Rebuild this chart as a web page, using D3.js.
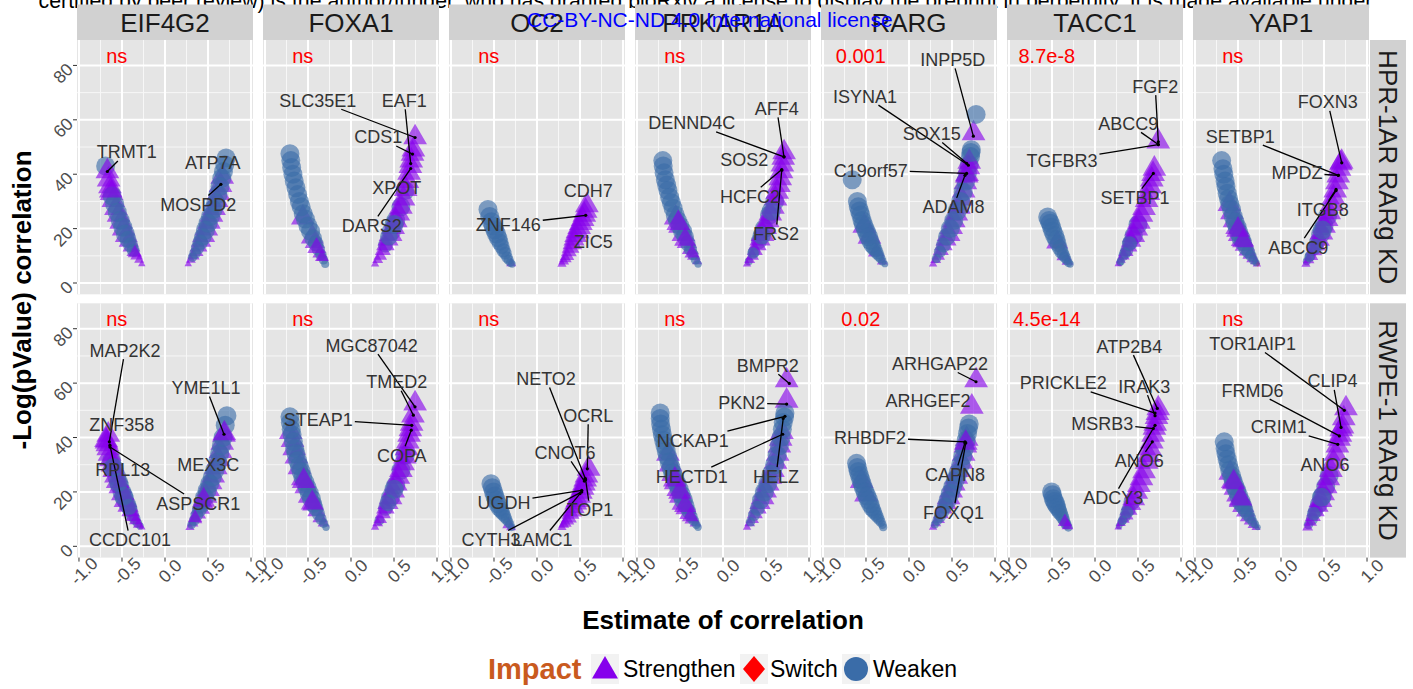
<!DOCTYPE html>
<html><head><meta charset="utf-8">
<script src="https://cdn.jsdelivr.net/npm/d3@7"></script>
<style>
body{margin:0;background:#fff;}
text{font-family:"Liberation Sans",Arial,Helvetica,sans-serif;}
</style>
</head><body>
<svg id="chart" width="1413" height="689"></svg>
<script>
// ---------------- data ----------------
const genes = ["EIF4G2","FOXA1","OC2","PRKAR1A","RARG","TACC1","YAP1"];
const cellLines = ["HPR-1AR RARg KD","RWPE-1 RARg KD"];
const pHPR = ["ns","ns","ns","ns","0.001","8.7e-8","ns"];
const pRWPE = ["ns","ns","ns","ns","0.02","4.5e-14","ns"];
const xTicks = [-1.0,-0.5,0.0,0.5,1.0];
const xTickLabels = ["-1.0","-0.5","0.0","0.5","1.0"];
const xMinor = [-0.75,-0.25,0.25,0.75];
const yTicks = [0,20,40,60,80];
const yMinor = [10,30,50,70];
const impactCodes = ["S","X","W"];
const impactNames = ["Strengthen","Switch","Weaken"];
const pAnnotEst = -0.56, pAnnotLogp = 83.4;

// points: [estimate, -log(pValue), impact]
const hpr_EIF4G2 = [
[-0.69,43,"W"],[-0.67,41,"S"],[-0.655,38,"S"],[-0.64,35.5,"S"],[-0.62,33,"S"],[-0.60,30.5,"S"],[-0.57,27.5,"S"],[-0.54,25,"S"],[-0.51,22.5,"S"],[-0.48,20,"S"],[-0.45,17.5,"S"],[-0.42,15.5,"S"],[-0.39,13.5,"S"],[-0.36,11.5,"S"],[-0.33,10,"S"],[-0.30,8.5,"S"],[-0.27,7,"S"],
[-0.615,32,"W"],[-0.585,29,"W"],[-0.555,26,"W"],[-0.52,23,"W"],[-0.49,20.5,"W"],[-0.46,18,"W"],[-0.43,16,"W"],[-0.40,14,"W"],[-0.37,12,"W"],[-0.63,34,"S"],[-0.35,11,"S"],
[0.27,7,"S"],[0.30,8.5,"S"],[0.33,10,"S"],[0.36,11.5,"S"],[0.39,13.5,"S"],[0.42,15.5,"S"],[0.45,17.5,"S"],[0.48,20,"S"],[0.51,22.5,"S"],[0.54,25,"S"],[0.57,27.5,"S"],[0.60,30.5,"S"],[0.62,33,"S"],[0.645,36,"S"],[0.665,39,"S"],
[0.32,9.5,"W"],[0.35,11,"W"],[0.38,13,"W"],[0.41,15,"W"],[0.44,17,"W"],[0.47,19.5,"W"],[0.50,22,"W"],[0.53,24.5,"W"],[0.56,27,"W"],[0.59,29.5,"W"],[0.615,32.5,"W"],[0.64,35.5,"W"],[0.66,38.5,"W"],[0.68,41,"W"],[0.695,43.5,"W"],[0.71,46,"W"]
];
const hpr_FOXA1 = [
[-0.56,24,"S"],[-0.45,17,"S"],[-0.42,15,"S"],[-0.36,11,"S"],[-0.33,9.5,"S"],
[-0.71,47.5,"W"],[-0.70,45,"W"],[-0.69,42.5,"W"],[-0.675,40,"W"],[-0.66,37.5,"W"],[-0.64,35,"W"],[-0.62,32.5,"W"],[-0.60,30,"W"],[-0.58,28,"W"],[-0.555,25.5,"W"],[-0.53,23.5,"W"],[-0.50,21,"W"],[-0.47,19,"W"],[-0.44,16.5,"W"],[-0.41,14.5,"W"],[-0.38,12.5,"W"],[-0.35,10.5,"W"],[-0.32,8.5,"W"],[-0.30,7,"W"],
[-0.40,13,"S"],[-0.34,9.5,"S"],
[0.40,14,"W"],[0.47,19,"W"],[0.52,23,"W"],[0.58,28,"W"],[0.63,34,"W"],
[0.28,7,"S"],[0.31,8.5,"S"],[0.34,10,"S"],[0.37,12,"S"],[0.40,14,"S"],[0.43,16,"S"],[0.46,18,"S"],[0.49,20.5,"S"],[0.52,23,"S"],[0.55,25.5,"S"],[0.58,28,"S"],[0.61,31,"S"],[0.635,34.5,"S"],[0.655,37.5,"S"],[0.675,40.5,"S"],[0.69,43,"S"],[0.70,45,"S"],[0.715,47.5,"S"],[0.725,49,"S"],[0.745,53.5,"S"],
[0.44,17,"W"],[0.50,21.5,"W"]
];
const hpr_OC2 = [
[-0.30,7.2,"S"],
[-0.57,27,"W"],[-0.55,24.5,"W"],[-0.53,22.5,"W"],[-0.51,21,"W"],[-0.49,19.5,"W"],[-0.47,18,"W"],[-0.45,16.5,"W"],[-0.43,15,"W"],[-0.41,13.5,"W"],[-0.39,12,"W"],[-0.37,11,"W"],[-0.35,9.5,"W"],[-0.33,8.5,"W"],[-0.31,7.5,"W"],[-0.29,7,"W"],
[0.29,7,"S"],[0.31,8,"S"],[0.33,9,"S"],[0.35,10,"S"],[0.37,11.5,"S"],[0.39,13,"S"],[0.41,14.5,"S"],[0.43,16,"S"],[0.45,17.5,"S"],[0.47,19,"S"],[0.49,20.5,"S"],[0.51,22,"S"],[0.53,23.5,"S"],[0.55,25,"S"],[0.565,26.5,"S"],[0.58,28.5,"S"]
];
const hpr_PRKAR1A = [
[-0.55,24,"S"],[-0.50,21,"S"],[-0.46,18,"S"],[-0.42,15,"S"],[-0.38,12.5,"S"],[-0.34,10,"S"],[-0.30,8,"S"],
[-0.70,45,"W"],[-0.695,43,"W"],[-0.685,40.5,"W"],[-0.67,38,"W"],[-0.655,36,"W"],[-0.64,34,"W"],[-0.62,31.5,"W"],[-0.60,29.5,"W"],[-0.58,27.5,"W"],[-0.555,25,"W"],[-0.53,23,"W"],[-0.50,21,"W"],[-0.47,19,"W"],[-0.44,17,"W"],[-0.41,14.5,"W"],[-0.38,12.5,"W"],[-0.35,10.5,"W"],[-0.32,8.5,"W"],[-0.29,7,"W"],
[-0.52,22,"S"],[-0.44,16,"S"],[-0.36,11,"S"],
[0.30,8,"W"],[0.36,11.5,"W"],[0.42,15.5,"W"],[0.48,20,"W"],[0.54,25,"W"],[0.60,30,"W"],
[0.28,7,"S"],[0.31,8.5,"S"],[0.34,10,"S"],[0.37,12,"S"],[0.40,14,"S"],[0.43,16,"S"],[0.46,18,"S"],[0.49,20.5,"S"],[0.52,23,"S"],[0.55,25.5,"S"],[0.58,28,"S"],[0.61,31,"S"],[0.63,33.5,"S"],[0.65,36,"S"],[0.665,38.5,"S"],[0.68,41,"S"],[0.69,43.5,"S"],[0.70,46,"S"],[0.71,48,"S"],
[0.35,11,"W"],[0.45,17.5,"W"],[0.56,26.5,"W"]
];
const hpr_RARG = [
[-0.52,21,"S"],[-0.46,17,"S"],[-0.38,11.5,"S"],[-0.31,8,"S"],
[-0.66,38,"W"],[-0.60,30,"W"],[-0.59,28,"W"],[-0.575,26.5,"W"],[-0.56,25,"W"],[-0.545,23,"W"],[-0.53,21.5,"W"],[-0.51,20,"W"],[-0.49,18.5,"W"],[-0.47,17,"W"],[-0.45,15.5,"W"],[-0.43,14,"W"],[-0.41,13,"W"],[-0.39,12,"W"],[-0.37,11,"W"],[-0.35,10,"W"],[-0.33,9,"W"],[-0.31,8,"W"],[-0.28,7,"W"],
[0.28,7,"S"],[0.31,8.5,"S"],[0.34,10,"S"],[0.37,12,"S"],[0.40,14,"S"],[0.43,16,"S"],[0.46,18,"S"],[0.49,20.5,"S"],[0.52,23,"S"],[0.55,25.5,"S"],[0.58,28,"S"],[0.61,31,"S"],[0.635,34,"S"],[0.655,37,"S"],[0.675,40,"S"],
[0.32,9,"W"],[0.36,11.5,"W"],[0.40,14,"W"],[0.44,17,"W"],[0.48,20,"W"],[0.52,23,"W"],[0.56,26.5,"W"],[0.60,30,"W"],[0.63,33.5,"W"],[0.66,37.5,"W"],[0.68,40.5,"W"],[0.70,43.5,"W"],[0.715,46.5,"W"],[0.725,49,"W"],
[0.67,39.5,"S"],[0.69,42.5,"S"],[0.70,44.5,"S"],[0.72,48,"W"],[0.75,55,"S"],[0.78,62,"W"]
];
const hpr_TACC1 = [
[-0.44,15,"S"],[-0.36,10,"S"],[-0.32,8,"S"],[-0.42,13.5,"X"],
[-0.55,24.3,"W"],[-0.535,23,"W"],[-0.52,22,"W"],[-0.505,20.5,"W"],[-0.49,19,"W"],[-0.47,17.5,"W"],[-0.45,16,"W"],[-0.43,14.5,"W"],[-0.41,13,"W"],[-0.39,11.5,"W"],[-0.37,10.5,"W"],[-0.35,9.5,"W"],[-0.33,8.5,"W"],[-0.31,7.5,"W"],[-0.29,7,"W"],
[0.29,7.5,"W"],[0.33,10,"W"],[0.37,12,"W"],[0.41,15,"W"],[0.45,17.5,"W"],[0.50,21.5,"W"],
[0.27,7,"S"],[0.30,8.5,"S"],[0.33,10,"S"],[0.36,11.5,"S"],[0.39,13.5,"S"],[0.42,15.5,"S"],[0.45,17.5,"S"],[0.48,20,"S"],[0.51,22.5,"S"],[0.54,25,"S"],[0.57,27.5,"S"],[0.60,30.5,"S"],[0.62,33,"S"],[0.64,35.5,"S"],[0.66,38,"S"],[0.675,40,"S"],[0.69,42,"S"],[0.735,52,"S"],
[0.30,8,"W"],[0.35,11,"W"],[0.40,14.5,"W"]
];
const hpr_YAP1 = [
[-0.60,29,"S"],[-0.57,26,"S"],[-0.54,23,"S"],[-0.51,20.5,"S"],[-0.48,18,"S"],[-0.45,16,"S"],[-0.42,14,"S"],[-0.39,12,"S"],[-0.36,10.5,"S"],[-0.33,9,"S"],[-0.30,8,"S"],[-0.28,7,"S"],[-0.27,7,"X"],
[-0.69,45,"W"],[-0.675,42,"W"],[-0.665,40,"W"],[-0.65,37.5,"W"],[-0.64,35.5,"W"],[-0.625,33,"W"],[-0.61,31,"W"],[-0.595,29,"W"],[-0.575,27,"W"],[-0.555,24.5,"W"],[-0.535,22.5,"W"],[-0.51,20.5,"W"],[-0.49,18.5,"W"],[-0.465,16.5,"W"],[-0.44,15,"W"],[-0.41,13,"W"],[-0.38,11.5,"W"],[-0.35,10,"W"],[-0.32,8.5,"W"],[-0.29,7.5,"W"],
[-0.50,19.5,"S"],[-0.44,15.5,"S"],
[0.30,8,"W"],[0.34,10,"W"],[0.38,12.5,"W"],[0.42,15,"W"],[0.46,18,"W"],[0.50,21,"W"],[0.54,24.5,"W"],
[0.29,7,"S"],[0.32,8.5,"S"],[0.35,10,"S"],[0.38,12,"S"],[0.41,14,"S"],[0.44,16,"S"],[0.47,18.5,"S"],[0.50,21,"S"],[0.53,23.5,"S"],[0.56,26,"S"],[0.59,29,"S"],[0.61,31.5,"S"],[0.63,34,"S"],[0.65,37,"S"],[0.665,39.5,"S"],[0.68,42,"S"],[0.695,44,"S"],[0.705,44.5,"S"],
[0.33,9.5,"W"],[0.40,13.5,"W"],[0.48,19.5,"W"]
];
const rwpe_EIF4G2 = [
[-0.62,31.5,"W"],[-0.59,28.5,"W"],[-0.56,25.5,"W"],[-0.53,22.5,"W"],[-0.50,20,"W"],[-0.47,17.5,"W"],[-0.44,15.5,"W"],[-0.41,13.5,"W"],[-0.38,11.5,"W"],[-0.35,10,"W"],[-0.32,8.5,"W"],[-0.29,7.5,"W"],
[-0.66,41,"S"],[-0.685,39,"S"],[-0.68,38.5,"S"],[-0.67,37.5,"S"],[-0.66,36,"S"],[-0.645,34,"S"],[-0.63,32,"S"],[-0.61,30,"S"],[-0.59,28,"S"],[-0.57,26,"S"],[-0.55,24,"S"],[-0.52,22,"S"],[-0.49,19.5,"S"],[-0.46,17,"S"],[-0.43,15,"S"],[-0.40,13,"S"],[-0.37,11,"S"],[-0.34,9.5,"S"],[-0.31,8,"S"],[-0.27,7,"S"],
[-0.60,29,"W"],[-0.54,23.5,"W"],[-0.48,18.5,"W"],[-0.42,14.5,"W"],
[0.29,7,"S"],[0.32,8.5,"S"],[0.35,10,"S"],[0.38,12,"S"],[0.41,14,"S"],[0.44,16,"S"],[0.47,18.5,"S"],[0.50,21,"S"],[0.53,23.5,"S"],[0.56,26,"S"],[0.59,29,"S"],[0.62,32,"S"],[0.645,35,"S"],[0.665,38,"S"],[0.685,41,"S"],
[0.31,8,"W"],[0.34,9.5,"W"],[0.37,11.5,"W"],[0.40,13.5,"W"],[0.43,15.5,"W"],[0.46,18,"W"],[0.49,20.5,"W"],[0.52,23,"W"],[0.55,25.5,"W"],[0.58,28,"W"],[0.61,31,"W"],[0.635,34,"W"],[0.655,37,"W"],[0.675,40,"W"],[0.70,44.5,"W"],[0.72,48,"W"],
[0.69,41.5,"S"],[0.35,10.5,"S"],[0.45,17,"S"]
];
const rwpe_FOXA1 = [
[-0.70,42,"S"],[-0.68,39,"S"],[-0.66,36,"S"],[-0.635,33,"S"],[-0.60,29,"S"],[-0.56,25,"S"],[-0.52,22,"S"],[-0.48,18.5,"S"],[-0.44,15.5,"S"],[-0.40,13,"S"],[-0.36,10.5,"S"],[-0.32,8.5,"S"],
[-0.71,47.6,"W"],[-0.705,45.5,"W"],[-0.695,43,"W"],[-0.685,41,"W"],[-0.67,38.5,"W"],[-0.655,36,"W"],[-0.64,34,"W"],[-0.62,31.5,"W"],[-0.60,29.5,"W"],[-0.58,27.5,"W"],[-0.56,25.5,"W"],[-0.535,23.5,"W"],[-0.51,21.5,"W"],[-0.485,19.5,"W"],[-0.46,17.5,"W"],[-0.435,15.5,"W"],[-0.41,14,"W"],[-0.38,12,"W"],[-0.35,10,"W"],[-0.32,8.5,"W"],[-0.29,7,"W"],
[-0.55,24,"S"],[-0.45,16,"S"],
[0.33,9.5,"W"],[0.40,14,"W"],[0.46,18,"W"],[0.52,22.5,"W"],[0.58,28,"W"],[0.63,33.5,"W"],
[0.28,7,"S"],[0.31,8.5,"S"],[0.34,10,"S"],[0.37,12,"S"],[0.40,14,"S"],[0.43,16,"S"],[0.46,18,"S"],[0.49,20.5,"S"],[0.52,23,"S"],[0.55,25.5,"S"],[0.58,28,"S"],[0.605,30.5,"S"],[0.625,33,"S"],[0.645,36,"S"],[0.66,38.5,"S"],[0.675,41,"S"],[0.69,43,"S"],[0.705,45,"S"],[0.72,48,"S"],[0.745,52.5,"S"],
[0.43,16,"W"],[0.50,21,"W"]
];
const rwpe_OC2 = [
[-0.33,8,"S"],[-0.30,7,"S"],
[-0.535,23,"W"],[-0.52,21.5,"W"],[-0.505,20,"W"],[-0.49,18.5,"W"],[-0.475,17,"W"],[-0.455,15.5,"W"],[-0.435,14,"W"],[-0.415,13,"W"],[-0.395,12,"W"],[-0.375,11,"W"],[-0.355,10,"W"],[-0.335,9,"W"],[-0.315,8,"W"],[-0.295,7,"W"],
[0.29,7,"S"],[0.31,8,"S"],[0.33,8.5,"S"],[0.35,9.5,"S"],[0.37,10.5,"S"],[0.39,12,"S"],[0.41,13,"S"],[0.43,14.5,"S"],[0.45,16,"S"],[0.47,17,"S"],[0.49,18.5,"S"],[0.51,20,"S"],[0.53,21.5,"S"],[0.545,23,"S"],[0.56,24.5,"S"],[0.575,26,"S"],[0.60,28.5,"S"]
];
const rwpe_PRKAR1A = [
[-0.64,34,"S"],[-0.61,30,"S"],[-0.58,26.5,"S"],[-0.55,23.5,"S"],[-0.52,21,"S"],[-0.49,18.5,"S"],[-0.46,16,"S"],[-0.43,14,"S"],[-0.40,12,"S"],[-0.36,10,"S"],[-0.32,8.5,"S"],
[-0.73,49,"W"],[-0.73,47,"W"],[-0.725,45,"W"],[-0.715,43,"W"],[-0.705,41,"W"],[-0.69,39,"W"],[-0.675,37,"W"],[-0.66,35,"W"],[-0.645,33,"W"],[-0.625,31,"W"],[-0.605,29,"W"],[-0.585,27,"W"],[-0.56,25,"W"],[-0.535,23,"W"],[-0.51,21,"W"],[-0.485,19,"W"],[-0.46,17,"W"],[-0.43,15,"W"],[-0.40,13,"W"],[-0.37,11,"W"],[-0.34,9.5,"W"],[-0.31,8,"W"],[-0.29,7,"W"],
[-0.56,24.5,"S"],[-0.50,20,"S"],[-0.44,15,"S"],[-0.38,11,"S"],
[0.28,7,"S"],[0.31,8.5,"S"],[0.34,10,"S"],[0.37,12,"S"],[0.40,14,"S"],[0.43,16,"S"],[0.46,18,"S"],[0.49,20.5,"S"],[0.52,23,"S"],[0.55,25.5,"S"],[0.58,28,"S"],[0.61,31,"S"],[0.635,34,"S"],[0.655,37,"S"],[0.67,39.5,"S"],[0.685,42,"S"],[0.74,53.5,"S"],[0.74,61,"S"],
[0.32,9,"W"],[0.36,11.5,"W"],[0.40,14,"W"],[0.44,17,"W"],[0.48,20,"W"],[0.52,23,"W"],[0.56,26.5,"W"],[0.60,30,"W"],[0.63,33.5,"W"],[0.655,37,"W"],[0.675,40,"W"],[0.69,43,"W"],[0.70,45.5,"W"],[0.715,47.5,"W"],[0.72,49,"W"]
];
const rwpe_RARG = [
[-0.50,19,"S"],[-0.55,24,"S"],
[-0.61,30.5,"W"],[-0.60,29,"W"],[-0.59,27.5,"W"],[-0.575,26,"W"],[-0.56,24.5,"W"],[-0.545,23,"W"],[-0.53,21.5,"W"],[-0.51,20,"W"],[-0.49,18.5,"W"],[-0.47,17,"W"],[-0.45,15.5,"W"],[-0.43,14,"W"],[-0.41,13,"W"],[-0.39,12,"W"],[-0.37,11,"W"],[-0.35,10,"W"],[-0.33,9,"W"],[-0.31,8,"W"],[-0.30,7,"W"],
[0.28,7,"S"],[0.31,8.5,"S"],[0.34,10,"S"],[0.37,12,"S"],[0.40,14,"S"],[0.43,16,"S"],[0.46,18,"S"],[0.49,20.5,"S"],[0.52,23,"S"],[0.55,25.5,"S"],[0.58,28,"S"],[0.61,31,"S"],[0.635,34,"S"],[0.655,37,"S"],[0.67,39.5,"S"],
[0.30,8,"W"],[0.33,9.5,"W"],[0.36,11,"W"],[0.39,13,"W"],[0.42,15,"W"],[0.45,17,"W"],[0.48,19.5,"W"],[0.51,22,"W"],[0.54,24.5,"W"],[0.57,27,"W"],[0.60,30,"W"],[0.625,33,"W"],[0.645,36,"W"],[0.665,39,"W"],[0.68,41.5,"W"],[0.69,43.5,"W"],[0.70,45,"W"],
[0.66,38,"S"],[0.73,51.3,"S"],[0.78,61,"S"]
];
const rwpe_TACC1 = [
[-0.41,13,"X"],
[-0.505,20,"W"],[-0.495,19,"W"],[-0.485,17.5,"W"],[-0.47,16.5,"W"],[-0.455,15.5,"W"],[-0.44,14.5,"W"],[-0.425,13.5,"W"],[-0.41,12.5,"W"],[-0.39,11.5,"W"],[-0.375,10.5,"W"],[-0.36,9.5,"W"],[-0.345,8.5,"W"],[-0.33,8,"W"],[-0.31,7,"W"],
[-0.35,9,"S"],[-0.32,7.5,"S"],
[0.28,7.5,"W"],[0.31,9,"W"],[0.35,11,"W"],[0.39,13.5,"W"],[0.43,16.5,"W"],
[0.27,7,"S"],[0.30,8.5,"S"],[0.33,10,"S"],[0.36,11.5,"S"],[0.39,13.5,"S"],[0.42,15.5,"S"],[0.45,17.5,"S"],[0.48,20,"S"],[0.51,22.5,"S"],[0.54,25,"S"],[0.57,27.5,"S"],[0.60,31,"S"],[0.62,33.5,"S"],[0.64,36,"S"],[0.66,38.5,"S"],[0.675,41,"S"],[0.69,43.5,"S"],[0.70,45,"S"],[0.715,47.5,"S"],[0.725,49,"S"],[0.735,50.7,"S"],
[0.32,9.5,"W"],[0.37,12.5,"W"]
];
const rwpe_YAP1 = [
[-0.59,27,"S"],[-0.56,24,"S"],[-0.53,21.5,"S"],[-0.50,19,"S"],[-0.47,17,"S"],[-0.44,15,"S"],[-0.41,13,"S"],[-0.38,11,"S"],[-0.35,9.5,"S"],[-0.32,8,"S"],[-0.29,7,"S"],
[-0.66,38.4,"W"],[-0.65,36,"W"],[-0.64,34,"W"],[-0.625,32,"W"],[-0.61,30,"W"],[-0.595,28,"W"],[-0.575,26,"W"],[-0.555,24,"W"],[-0.535,22,"W"],[-0.515,20.5,"W"],[-0.49,18.5,"W"],[-0.465,16.5,"W"],[-0.44,15,"W"],[-0.415,13.5,"W"],[-0.39,12,"W"],[-0.36,10.5,"W"],[-0.33,9,"W"],[-0.30,8,"W"],[-0.27,7,"W"],
[-0.55,23.5,"S"],[-0.47,17.5,"S"],
[0.32,8,"W"],[0.36,10,"W"],[0.40,13,"W"],[0.44,15.5,"W"],[0.48,18.5,"W"],[0.52,22,"W"],[0.56,26,"W"],
[0.31,7,"S"],[0.34,9,"S"],[0.37,11,"S"],[0.40,13,"S"],[0.43,15,"S"],[0.46,17,"S"],[0.49,19.5,"S"],[0.52,22,"S"],[0.55,25,"S"],[0.58,28,"S"],[0.61,31,"S"],[0.635,34,"S"],[0.655,37,"S"],[0.675,39.5,"S"],[0.69,41,"S"],[0.70,43,"S"],[0.715,44,"S"],[0.73,47,"S"],[0.755,50.7,"S"],
[0.38,12,"W"],[0.47,18,"W"]
];

// gene labels: [gene, point estimate, point -log p, label estimate, label -log p]
const lab_hpr_EIF4G2 = [["TRMT1",-0.67,41,-0.445,48.2],["ATP7A",0.71,46,0.555,44.2],["MOSPD2",0.65,36.3,0.387,28.9]];
const lab_hpr_FOXA1 = [["SLC35E1",0.745,53.5,-0.387,67.2],["EAF1",0.694,43.9,0.62,67.2],["CDS1",0.715,47.4,0.317,53.7],["XPOT",0.66,36,0.531,35],["DARS2",0.694,42.1,0.24,21.2]];
const lab_hpr_OC2 = [["CDH7",0.578,28.6,0.597,34.1],["ZNF146",0.566,24.9,-0.334,21.6],["ZIC5",0.45,17.5,0.655,15.1]];
const lab_hpr_PRKAR1A = [["AFF4",0.709,46.4,0.624,64.2],["DENND4C",0.709,46.4,-0.364,58.9],["SOS2",0.6,44,0.248,45.4],["HCFC2",0.683,41.7,0.314,31.9],["FRS2",0.683,41.5,0.616,18.2]];
const lab_hpr_RARG = [["INPP5D",0.748,54,0.508,82.2],["ISYNA1",0.69,43.3,-0.512,68.7],["SOX15",0.67,44,0.264,55],["C19orf57",0.67,40.3,-0.445,41.5],["ADAM8",0.651,39.6,0.516,28]];
const lab_hpr_TACC1 = [["FGF2",0.736,51.9,0.70,72.4],["ABCC9",0.736,50.9,0.387,58.7],["TGFBR3",0.736,50.9,-0.384,45.2],["SETBP1",0.678,40.3,0.465,31.4]];
const lab_hpr_YAP1 = [["FOXN3",0.706,44.2,0.543,66.6],["SETBP1",0.666,39.6,-0.473,54],["MPDZ",0.666,39.6,0.186,40.5],["ITGB8",0.64,34.4,0.485,27],["ABCC9",0.64,34,0.201,13.2]];
const lab_rwpe_EIF4G2 = [["MAP2K2",-0.647,38.4,-0.465,72.1],["ZNF358",-0.66,41,-0.503,44.9],["YME1L1",0.686,41.2,0.477,58.4],["RPL13",-0.57,26,-0.492,28.2],["MEX3C",0.59,29,0.503,30.2],["ASPSCR1",-0.64,36.5,0.387,15.9],["CCDC101",-0.64,37.2,-0.407,2.5]];
const lab_rwpe_FOXA1 = [["MGC87042",0.744,51.3,0.24,74],["TMED2",0.725,48.2,0.531,60.5],["STEAP1",0.706,44.5,-0.38,46.7],["COPA",0.70,42.7,0.59,33.5]];
const lab_rwpe_OC2 = [["NETO2",0.56,25,0.105,61.7],["OCRL",0.585,28.5,0.597,48.2],["CNOT6",0.55,24,0.326,34.5],["UGDH",0.52,20.6,-0.384,16.1],["TOP1",0.565,24.5,0.616,13.5],["CYTH3",0.52,20,-0.535,2.5],["LAMC1",0.50,19.4,0.064,2.5]];
const lab_rwpe_PRKAR1A = [["BMPR2",0.771,59.9,0.519,66.6],["PKN2",0.74,52.3,0.217,52.7],["NCKAP1",0.72,47.8,-0.352,39],["HECTD1",0.694,41.2,-0.364,25.8],["HELZ",0.70,47,0.616,25.8]];
const lab_rwpe_RARG = [["ARHGAP22",0.779,60.5,0.36,67.2],["ARHGEF2",0.729,51.3,0.22,53.7],["RHBDF2",0.651,38.4,-0.453,40],["CAPN8",0.65,38,0.535,26.4],["FOXQ1",0.66,38,0.516,12.6]];
const lab_rwpe_TACC1 = [["ATP2B4",0.724,50.7,0.40,73.6],["PRICKLE2",0.698,49,-0.368,60.1],["IRAK3",0.698,48,0.573,58.9],["MSRB3",0.678,43.3,0.085,45.2],["ANO6",0.666,38.4,0.515,31.4],["ADCY3",0.698,44.5,0.213,17.9]];
const lab_rwpe_YAP1 = [["TOR1AIP1",0.736,50,-0.33,74.6],["CLIP4",0.698,43.7,0.6,60.8],["FRMD6",0.678,40.6,-0.33,57.4],["CRIM1",0.66,37.5,-0.027,43.9],["ANO6",0.59,28,0.512,30.2]];

const rowPoints = [
  [hpr_EIF4G2,hpr_FOXA1,hpr_OC2,hpr_PRKAR1A,hpr_RARG,hpr_TACC1,hpr_YAP1],
  [rwpe_EIF4G2,rwpe_FOXA1,rwpe_OC2,rwpe_PRKAR1A,rwpe_RARG,rwpe_TACC1,rwpe_YAP1]
];
const rowLabels = [
  [lab_hpr_EIF4G2,lab_hpr_FOXA1,lab_hpr_OC2,lab_hpr_PRKAR1A,lab_hpr_RARG,lab_hpr_TACC1,lab_hpr_YAP1],
  [lab_rwpe_EIF4G2,lab_rwpe_FOXA1,lab_rwpe_OC2,lab_rwpe_PRKAR1A,lab_rwpe_RARG,lab_rwpe_TACC1,lab_rwpe_YAP1]
];
const rowP = [pHPR, pRWPE];

// ---------------- layout & scales ----------------
const svg = d3.select("#chart");
const PW = 176, PH = 254.3, GAP = 10;
const colLeft = d3.range(genes.length).map(i => 77 + i*(PW+GAP));
const rowTop = [40, 303.3];
const x = d3.scaleLinear().domain([-1.023,1.023]).range([0,PW]);
const y = d3.scaleLinear().domain([-4.15,89.35]).range([PH,0]);
const size = d3.scaleLinear().domain([0.27,0.46]).range([6,19]).clamp(true);
const color = d3.scaleOrdinal().domain(impactCodes).range(["#8600EC","#FF0000","#3A6CA8"]);
const PANEL_BG = "#E5E5E5", STRIP_BG = "#D1D1D1", AXIS_TXT = "#4D4D4D";

function symPath(code, d){
  if(code === "S"){ const s = d*1.25; return d3.symbol(d3.symbolTriangle, Math.sqrt(3)/4*s*s)(); }
  if(code === "X"){ const h = d*0.5; return `M0,${-h}L${h*0.8},0L0,${h}L${-h*0.8},0Z`; }
  return d3.symbol(d3.symbolCircle, Math.PI*(d/2)*(d/2))();
}

// watermark text at top
svg.append("text").attr("x",38.6).attr("y",8).attr("font-size",21.3).attr("fill","#000")
  .text("certified by peer review) is the author/funder, who has granted bioRxiv a license to display the preprint in perpetuity. It is made available under");

// panels
rowTop.forEach((top, r) => {
  genes.forEach((g, c) => {
    const gP = svg.append("g").attr("transform", `translate(${colLeft[c]},${top})`);
    gP.append("rect").attr("width",PW).attr("height",PH).attr("fill",PANEL_BG);
    xMinor.forEach(t => gP.append("line").attr("x1",x(t)).attr("x2",x(t)).attr("y1",0).attr("y2",PH).attr("stroke","#F7F7F7").attr("stroke-width",1));
    yMinor.forEach(t => gP.append("line").attr("y1",y(t)).attr("y2",y(t)).attr("x1",0).attr("x2",PW).attr("stroke","#F7F7F7").attr("stroke-width",1));
    xTicks.forEach(t => gP.append("line").attr("x1",x(t)).attr("x2",x(t)).attr("y1",0).attr("y2",PH).attr("stroke","#fff").attr("stroke-width",2));
    yTicks.forEach(t => gP.append("line").attr("y1",y(t)).attr("y2",y(t)).attr("x1",0).attr("x2",PW).attr("stroke","#fff").attr("stroke-width",2));

    gP.append("g").selectAll("path").data(rowPoints[r][c]).join("path")
      .attr("transform", d => `translate(${x(d[0])},${y(d[1])})`)
      .attr("d", d => symPath(d[2], size(Math.abs(d[0]))))
      .attr("fill", d => color(d[2]))
      .attr("fill-opacity", d => d[2] === "X" ? 0.35 : 0.62);

    // labels with segments
    const labs = rowLabels[r][c];
    const lg = gP.append("g");
    labs.forEach(L => {
      const cx = x(L[3]), cy = y(L[4]);
      const t = lg.append("text").attr("x",cx).attr("y",cy+6.5).attr("text-anchor","middle")
        .attr("font-size",18).attr("fill","#333").text(L[0]);
      const tw = t.node().getComputedTextLength();
      const px = x(L[1]), py = y(L[2]);
      const hw = tw/2 + 2, hh = 9;
      const dx = px - cx, dy = py - cy;
      if (Math.abs(dx) <= hw && Math.abs(dy) <= hh) return;
      const k = Math.min(hw/Math.max(Math.abs(dx),1e-6), hh/Math.max(Math.abs(dy),1e-6));
      const sx = cx + dx*k, sy = cy + dy*k;
      if (Math.hypot(px-sx, py-sy) < 9) return;
      lg.insert("line","text").attr("x1",sx).attr("y1",sy).attr("x2",px).attr("y2",py)
        .attr("stroke","#000").attr("stroke-width",1.3);
      lg.insert("circle","text").attr("cx",px).attr("cy",py).attr("r",1.6).attr("fill","#000");
    });

    gP.append("text").attr("x",x(pAnnotEst)).attr("y",y(pAnnotLogp)).attr("dy","0.35em")
      .attr("text-anchor","middle").attr("font-size",20).attr("fill","#FF0000").text(rowP[r][c]);

    if (r === 0) {
      svg.append("rect").attr("x",colLeft[c]).attr("y",4.5).attr("width",PW).attr("height",35.5).attr("fill",STRIP_BG);
      svg.append("text").attr("x",colLeft[c]+PW/2).attr("y",31.5).attr("text-anchor","middle")
        .attr("font-size",26).attr("fill","#1a1a1a").text(g);
    }
    if (r === 1) {
      xTicks.forEach((tv, i) => {
        const tx = colLeft[c] + x(tv);
        svg.append("line").attr("x1",tx).attr("x2",tx).attr("y1",top+PH).attr("y2",top+PH+4).attr("stroke","#333");
        svg.append("text").attr("transform",`translate(${tx+5},${571}) rotate(-45)`)
          .attr("text-anchor","middle").attr("dominant-baseline","central")
          .attr("font-size",17.5).attr("fill",AXIS_TXT).text(xTickLabels[i]);
      });
    }
  });
  // y axis
  yTicks.forEach(tv => {
    const ty = top + y(tv);
    svg.append("line").attr("x1",73).attr("x2",77).attr("y1",ty).attr("y2",ty).attr("stroke","#333");
    svg.append("text").attr("transform",`translate(70,${ty+1}) rotate(-45)`)
      .attr("text-anchor","end").attr("dominant-baseline","central")
      .attr("font-size",17.5).attr("fill",AXIS_TXT).text(tv);
  });
  // right strip
  svg.append("rect").attr("x",1370).attr("y",top).attr("width",36).attr("height",PH).attr("fill",STRIP_BG);
  svg.append("text").attr("transform",`translate(1378.5,${top+PH/2}) rotate(90)`)
    .attr("text-anchor","middle").attr("font-size",26).attr("fill","#1a1a1a").text(cellLines[r]);
});

// licence text (over strips)
svg.append("text").attr("x",527).attr("y",27).attr("font-size",21).attr("fill","#0000FF")
  .text("CC-BY-NC-ND 4.0 International license");

// axis titles
svg.append("text").attr("transform","translate(31,300) rotate(-90)").attr("text-anchor","middle")
  .attr("font-size",26).attr("font-weight","bold").attr("fill","#000").text("-Log(pValue) correlation");
svg.append("text").attr("x",723).attr("y",629).attr("text-anchor","middle")
  .attr("font-size",26).attr("font-weight","bold").attr("fill","#000").text("Estimate of correlation");

// legend
const legY = 669;
svg.append("text").attr("x",488).attr("y",legY+10).attr("font-size",29).attr("font-weight","bold")
  .attr("fill","#C95A1E").text("Impact");
const keyX = [591, 740, 842];
const keyTextX = [623, 770, 873];
impactCodes.forEach((code, i) => {
  svg.append("rect").attr("x",keyX[i]).attr("y",legY-15).attr("width",28).attr("height",30).attr("fill","#F2F2F2");
  let p;
  if (code === "S") p = d3.symbol(d3.symbolTriangle, Math.sqrt(3)/4*26*26)();
  else if (code === "X") p = `M0,-13L11,0L0,13L-11,0Z`;
  else p = d3.symbol(d3.symbolCircle, Math.PI*12*12)();
  svg.append("path").attr("d",p).attr("transform",`translate(${keyX[i]+14},${legY+ (code==="S"?2:0)})`).attr("fill",color(code));
  svg.append("text").attr("x",keyTextX[i]).attr("y",legY+8).attr("font-size",23).attr("fill","#000").text(impactNames[i]);
});
</script>
</body></html>
